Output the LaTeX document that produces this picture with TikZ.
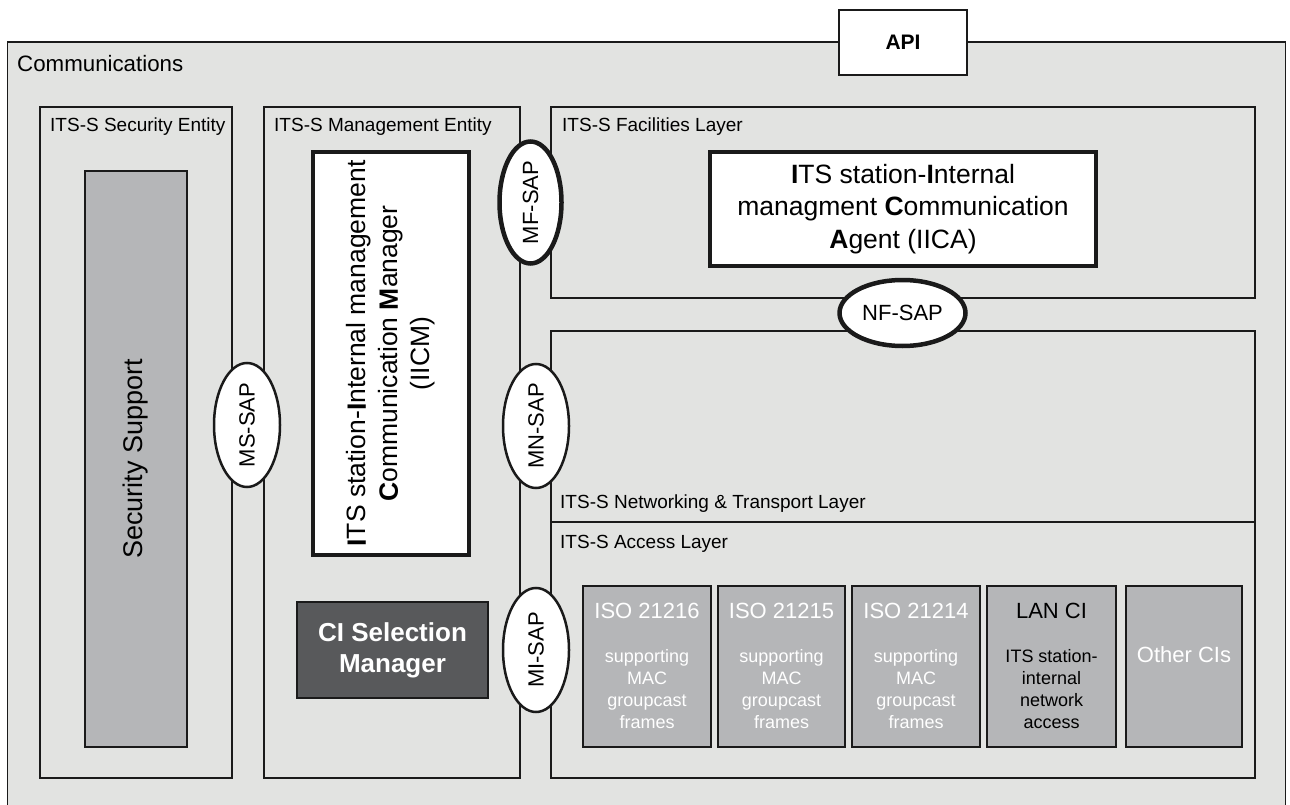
\documentclass[tikz,border=0pt]{standalone}
\usepackage{fontspec}
\setmainfont{Liberation Sans}
\usetikzlibrary{shapes.geometric}
\definecolor{bg}{HTML}{E2E3E1}
\definecolor{cigray}{HTML}{B5B6B8}
\definecolor{dark}{HTML}{58595B}
\definecolor{ln}{HTML}{1A1A1A}
\newcommand{\fs}[2]{\fontsize{#1}{#2}\selectfont}
\begin{document}
\begin{tikzpicture}[x=1pt,y=-1pt,
  box/.style={draw=ln, line width=1.6pt, fill=bg, inner sep=0pt, outer sep=0pt, anchor=north west},
  cibox/.style={box, fill=cigray, minimum height=161},
  thickbox/.style={box, fill=white, line width=4.5pt},
  lbl/.style={inner sep=0pt, anchor=base west, font=\fs{19}{22}},
  sap/.style={ellipse, draw=ln, fill=white, line width=2.5pt, minimum width=124, minimum height=66, inner sep=0pt, rotate=90, font=\fs{22}{26}},
  thicksap/.style={sap, line width=4.5pt, minimum width=122, minimum height=62},
  cititle/.style={inner sep=0pt, anchor=base, font=\fs{22}{26}, text=white},
  citext/.style={inner sep=0pt, anchor=base, align=center, font=\fs{18}{21.7}, text=white}
]
\useasboundingbox (0,0) rectangle (1290,805);
\clip (0,0) rectangle (1290,805);
% outer communications box
\node[box, minimum width=1278, minimum height=800] (comm) at (7.5,42) {};
\node[lbl, font=\fs{22.3}{26}] (commlbl) at (17,72) {Communications};
\node[box, fill=white, line width=2pt, minimum width=128, minimum height=65, anchor=center, font=\bfseries\fs{21}{25}] (api) at (903,42.5) {API};
% security entity
\node[box, minimum width=192, minimum height=671] (sec) at (40,107) {};
\node[lbl] (seclbl) at (50,132) {ITS-S Security Entity};
\node[box, fill=cigray, minimum width=102, minimum height=576] (secsup) at (85,171) {};
\node[rotate=90, inner sep=0pt, font=\fs{27}{32}] (secsuptxt) at (secsup.center) {Security Support};
% management entity
\node[box, minimum width=256, minimum height=671] (mgmt) at (264,107) {};
\node[lbl] (mgmtlbl) at (274,132) {ITS-S Management Entity};
\node[thickbox, minimum width=156, minimum height=403] (iicm) at (313,152) {};
\node[rotate=90, inner sep=0pt, align=center, font=\fs{26.5}{32}] (iicmtxt) at (iicm.center)
  {\textbf{I}TS station-\textbf{I}nternal management\\\textbf{C}ommunication \textbf{M}anager\\(IICM)};
\node[box, fill=dark, minimum width=191, minimum height=96] (cism) at (297,602) {};
\node[inner sep=0pt, align=center, text=white, font=\bfseries\fs{26}{31}] (cismtxt) at (cism.center) {CI Selection\\Manager};
% facilities layer
\node[box, minimum width=704, minimum height=191] (fac) at (551,107) {};
\node[lbl] (faclbl) at (562,132) {ITS-S Facilities Layer};
\node[thickbox, minimum width=386, minimum height=114] (iica) at (710,152) {};
\node[inner sep=0pt, align=center, font=\fs{26.5}{32.5}] (iicatxt) at (iica.center)
  {\textbf{I}TS station-\textbf{I}nternal\\managment \textbf{C}ommunication\\\textbf{A}gent (IICA)};
% networking & transport layer
\node[box, minimum width=704, minimum height=191] (net) at (551,331) {};
\node[lbl] (netlbl) at (560,508) {ITS-S Networking \& Transport Layer};
% access layer
\node[box, minimum width=704, minimum height=256] (acc) at (551,522) {};
\node[lbl] (acclbl) at (560,548) {ITS-S Access Layer};
% CIs
\node[cibox, minimum width=128] (ci1) at (583,586) {};
\node[cibox, minimum width=127] (ci2) at (718,586) {};
\node[cibox, minimum width=128] (ci3) at (852,586) {};
\node[cibox, minimum width=129] (ci4) at (987,586) {};
\node[cibox, minimum width=116] (ci5) at (1126,586) {};
\node[cititle] (ci1t) at (647,618) {ISO 21216};
\node[citext] (ci1b) at (647,728) {supporting\\MAC\\groupcast\\frames};
\node[cititle] (ci2t) at (781.5,618) {ISO 21215};
\node[citext] (ci2b) at (781.5,728) {supporting\\MAC\\groupcast\\frames};
\node[cititle] (ci3t) at (916,618) {ISO 21214};
\node[citext] (ci3b) at (916,728) {supporting\\MAC\\groupcast\\frames};
\node[cititle, text=black] (ci4t) at (1051.5,618) {LAN CI};
\node[citext, text=black] (ci4b) at (1051.5,728) {ITS station-\\internal\\network\\access};
\node[cititle] (ci5t) at (1184,662) {Other CIs};
% SAPs
\node[sap] (mssap) at (247,425) {MS-SAP};
\node[thicksap] (mfsap) at (530.5,202.5) {MF-SAP};
\node[sap] (mnsap) at (536,426) {MN-SAP};
\node[sap] (misap) at (536,650) {MI-SAP};
\node[thicksap, rotate=-90, minimum width=126, minimum height=66] (nfsap) at (902.5,313) {NF-SAP};
\end{tikzpicture}
\end{document}
